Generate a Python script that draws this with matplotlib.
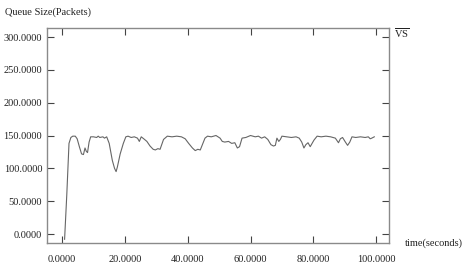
import numpy as np
import matplotlib
matplotlib.use("Agg")
import matplotlib.pyplot as plt

plt.rcParams['font.family'] = ['Liberation Serif', 'DejaVu Serif']
plt.rcParams['mathtext.fontset'] = 'custom'
plt.rcParams['mathtext.rm'] = 'Liberation Serif'

# queue size trace
time_s = [0.8, 1.5, 2.2, 2.8, 3.4, 4.2, 4.8, 5.5, 6.2, 6.8, 7.3, 7.7, 8.1, 8.6, 9.1,
          10, 11, 11.5, 12, 13, 13.5, 14.2, 15, 16, 16.7, 17.2, 17.6, 18.5, 19.5, 20.3,
          21, 22, 23, 24, 24.6, 25.2, 26, 27, 28, 29, 29.7, 30.5, 31.2, 32.3, 33.5,
          35, 36.5, 38, 39.2, 40.3, 41.5, 42.4, 43.2, 44, 44.5, 45.5, 46.3, 47.5, 49,
          50.3, 51, 51.8, 53, 54, 55, 55.8, 56.5, 57.3, 58.5, 60, 61.5, 62.5, 63.5,
          64.5, 65.5, 66.5, 67.3, 67.9, 68.4, 69, 69.5, 70, 71.5, 73, 74.5, 75.5,
          76.3, 77, 77.6, 78.3, 79, 79.6, 80.2, 81.2, 82.5, 84, 85.5, 87, 88, 88.6,
          89.3, 90.2, 90.9, 91.6, 92.3, 93.5, 95, 96.5, 97.5, 98.1, 98.6, 99.4]
queue = [-8, 60, 138, 147, 149, 149, 145, 133, 122, 121, 131, 126, 124, 140, 148,
         148, 147, 149, 147, 148, 146, 148, 138, 112, 100, 95, 102, 122, 138, 148,
         149, 147, 148, 146, 141, 148, 145, 141, 134, 129, 128, 130, 129, 144, 149,
         148, 149, 148, 145, 138, 131, 127, 129, 128, 134, 146, 149, 148, 150,
         146, 141, 140, 141, 138, 139, 131, 133, 146, 147, 150, 148, 149, 146,
         148, 144, 136, 134, 135, 146, 141, 144, 149, 148, 147, 148, 146,
         140, 131, 136, 139, 133, 138, 143, 149, 148, 149, 148, 146, 139, 145,
         147, 140, 135, 140, 148, 147, 148, 147, 148, 145, 146, 148]

xticks = [0, 20, 40, 60, 80, 100]
yticks = [0, 50, 100, 150, 200, 250, 300]

fig = plt.figure(figsize=(4.71, 2.70), dpi=100)
ax = fig.add_axes([0.0998, 0.1, 0.7262, 0.796])
ax.plot(time_s, queue, color='#666666', lw=0.8)

ax.set_xlim(-4.8, 104.1)
ax.set_ylim(-13.7, 313.6)
ax.set_xticks(xticks)
ax.set_yticks(yticks)
ax.set_xticklabels(['%.4f' % v for v in xticks])
ax.set_yticklabels(['%.4f' % v for v in yticks])
ax.tick_params(direction='in', top=True, right=True, length=5, width=0.8,
               color='#444444', labelsize=7.5, labelcolor='#222222')
ax.tick_params(axis='x', pad=9)
ax.tick_params(axis='y', pad=3.5)
for s in ax.spines.values():
    s.set_color('#8a8a8a')
    s.set_linewidth(1.0)

fig.text(5/471, 1 - 12/270, 'Queue Size(Packets)', fontsize=7.5, va='center', color='#222222')
fig.text(405/471, 1 - 243/270, 'time(seconds)', fontsize=7.5, va='center', color='#222222')
fig.text(394/471, 1 - 33/270, r'$\overline{\mathrm{VS}}$', fontsize=7.5, va='center', color='#222222')

fig.savefig('out.png', dpi=100)
